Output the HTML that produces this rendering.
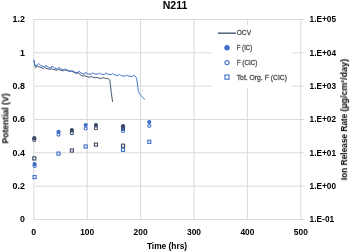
<!DOCTYPE html>
<html><head><meta charset="utf-8"><style>
html,body{margin:0;padding:0;background:#fff;}
body{width:350px;height:251px;overflow:hidden;}
svg{display:block;font-family:"Liberation Sans",sans-serif;}
text{will-change:transform;}
</style></head><body>
<svg width="350" height="251" viewBox="0 0 350 251">
<rect width="350" height="251" fill="#fff"/>
<line x1="33.80" y1="219.50" x2="300.80" y2="219.50" stroke="#d9d9d9" stroke-width="1"/>
<line x1="300.80" y1="219.50" x2="304.30" y2="219.50" stroke="#d9d9d9" stroke-width="1"/>
<line x1="33.80" y1="186.17" x2="300.80" y2="186.17" stroke="#d9d9d9" stroke-width="1"/>
<line x1="300.80" y1="186.17" x2="304.30" y2="186.17" stroke="#d9d9d9" stroke-width="1"/>
<line x1="33.80" y1="152.83" x2="300.80" y2="152.83" stroke="#d9d9d9" stroke-width="1"/>
<line x1="300.80" y1="152.83" x2="304.30" y2="152.83" stroke="#d9d9d9" stroke-width="1"/>
<line x1="33.80" y1="119.50" x2="300.80" y2="119.50" stroke="#d9d9d9" stroke-width="1"/>
<line x1="300.80" y1="119.50" x2="304.30" y2="119.50" stroke="#d9d9d9" stroke-width="1"/>
<line x1="33.80" y1="86.17" x2="300.80" y2="86.17" stroke="#d9d9d9" stroke-width="1"/>
<line x1="300.80" y1="86.17" x2="304.30" y2="86.17" stroke="#d9d9d9" stroke-width="1"/>
<line x1="33.80" y1="52.83" x2="300.80" y2="52.83" stroke="#d9d9d9" stroke-width="1"/>
<line x1="300.80" y1="52.83" x2="304.30" y2="52.83" stroke="#d9d9d9" stroke-width="1"/>
<line x1="33.80" y1="19.50" x2="300.80" y2="19.50" stroke="#d9d9d9" stroke-width="1"/>
<line x1="300.80" y1="19.50" x2="304.30" y2="19.50" stroke="#d9d9d9" stroke-width="1"/>
<line x1="33.80" y1="19.50" x2="33.80" y2="219.50" stroke="#d9d9d9" stroke-width="1"/>
<line x1="87.20" y1="19.50" x2="87.20" y2="219.50" stroke="#d9d9d9" stroke-width="1"/>
<line x1="140.60" y1="19.50" x2="140.60" y2="219.50" stroke="#d9d9d9" stroke-width="1"/>
<line x1="194.00" y1="19.50" x2="194.00" y2="219.50" stroke="#d9d9d9" stroke-width="1"/>
<line x1="247.40" y1="19.50" x2="247.40" y2="219.50" stroke="#d9d9d9" stroke-width="1"/>
<line x1="300.80" y1="19.50" x2="300.80" y2="219.50" stroke="#d9d9d9" stroke-width="1"/>
<rect x="211.5" y="25.3" width="80.1" height="62.7" fill="#fff"/>
<polyline points="34.00,60.70 34.80,65.20 35.60,67.70 37.29,66.20 39.79,67.10 43.59,68.40 44.68,67.60 46.88,68.50 50.38,69.50 50.97,68.60 53.37,69.40 57.16,70.30 57.86,69.40 60.36,70.00 63.56,70.90 64.65,69.80 66.85,70.50 69.85,71.50 71.14,71.00 73.84,72.20 76.74,73.60 78.23,72.80 80.33,74.70 83.03,76.20 84.42,75.60 86.32,76.40 89.42,77.30 90.81,76.50 92.81,77.20 95.81,77.80 96.81,77.30 98.80,78.10 101.30,78.60 102.70,77.60 104.79,78.20 106.89,78.50 108.79,79.00 109.59,79.70 109.99,81.20 110.49,86.20 111.38,93.30 112.58,101.90" fill="none" stroke="#44546a" stroke-width="1.0" stroke-linejoin="round"/>
<polyline points="34.00,59.80 34.50,63.50 35.30,65.70 36.00,66.00 38.69,63.50 40.89,65.60 44.78,67.00 45.78,65.30 47.98,67.04 50.87,68.20 51.97,65.90 54.17,67.82 57.56,69.10 58.76,67.30 60.96,69.04 63.95,70.20 65.35,68.80 67.55,70.24 71.14,71.20 72.14,70.60 74.34,71.92 77.63,72.80 78.83,71.20 81.03,73.06 84.42,74.30 85.62,72.00 86.92,73.72 91.31,74.30 92.61,72.50 93.91,73.85 98.10,74.30 99.30,72.80 100.60,74.08 104.59,74.50 105.99,72.80 107.29,74.15 111.18,74.60 112.68,73.30 113.98,74.88 118.27,75.40 119.67,74.20 120.97,75.63 125.36,76.10 126.66,75.00 127.96,76.05 132.55,76.40 133.75,75.30 135.15,76.20 136.15,77.50 136.75,79.50 137.25,82.90 137.84,87.40 138.34,91.30 138.94,92.90 140.64,95.20 142.84,97.40 144.73,99.60" fill="none" stroke="#4675c8" stroke-width="1.0" stroke-linejoin="round"/>
<circle cx="34.60" cy="164.10" r="2.1" fill="#3f6fca"/>
<circle cx="58.51" cy="131.90" r="2.1" fill="#3f6fca"/>
<circle cx="85.67" cy="125.00" r="2.1" fill="#3f6fca"/>
<circle cx="123.02" cy="128.70" r="2.1" fill="#3f6fca"/>
<circle cx="149.28" cy="122.00" r="2.1" fill="#3f6fca"/>
<circle cx="34.60" cy="165.90" r="1.55" fill="none" stroke="#3f6fca" stroke-width="1.1"/>
<circle cx="58.51" cy="134.60" r="1.55" fill="none" stroke="#3f6fca" stroke-width="1.1"/>
<circle cx="85.67" cy="128.50" r="1.55" fill="none" stroke="#3f6fca" stroke-width="1.1"/>
<circle cx="123.02" cy="130.90" r="1.55" fill="none" stroke="#3f6fca" stroke-width="1.1"/>
<circle cx="149.28" cy="125.80" r="1.55" fill="none" stroke="#3f6fca" stroke-width="1.1"/>
<rect x="33.05" y="175.55" width="3.10" height="3.10" fill="none" stroke="#3f6fca" stroke-width="1.1"/>
<rect x="56.96" y="152.05" width="3.10" height="3.10" fill="none" stroke="#3f6fca" stroke-width="1.1"/>
<rect x="84.12" y="144.95" width="3.10" height="3.10" fill="none" stroke="#3f6fca" stroke-width="1.1"/>
<rect x="121.47" y="148.25" width="3.10" height="3.10" fill="none" stroke="#3f6fca" stroke-width="1.1"/>
<rect x="147.73" y="140.25" width="3.10" height="3.10" fill="none" stroke="#3f6fca" stroke-width="1.1"/>
<circle cx="34.30" cy="138.20" r="2.1" fill="#3a4a66"/>
<circle cx="71.89" cy="130.20" r="2.1" fill="#3a4a66"/>
<circle cx="95.96" cy="125.00" r="2.1" fill="#3a4a66"/>
<circle cx="123.02" cy="126.20" r="2.1" fill="#3a4a66"/>
<circle cx="34.30" cy="140.00" r="1.55" fill="none" stroke="#3a4a66" stroke-width="1.1"/>
<circle cx="71.89" cy="133.20" r="1.55" fill="none" stroke="#3a4a66" stroke-width="1.1"/>
<circle cx="95.96" cy="128.20" r="1.55" fill="none" stroke="#3a4a66" stroke-width="1.1"/>
<circle cx="123.02" cy="128.70" r="1.55" fill="none" stroke="#3a4a66" stroke-width="1.1"/>
<rect x="32.75" y="156.85" width="3.10" height="3.10" fill="none" stroke="#3a4a66" stroke-width="1.1"/>
<rect x="70.34" y="148.95" width="3.10" height="3.10" fill="none" stroke="#3a4a66" stroke-width="1.1"/>
<rect x="94.41" y="143.05" width="3.10" height="3.10" fill="none" stroke="#3a4a66" stroke-width="1.1"/>
<rect x="121.47" y="144.15" width="3.10" height="3.10" fill="none" stroke="#3a4a66" stroke-width="1.1"/>
<line x1="218" y1="33.2" x2="236" y2="33.2" stroke="#4c5c76" stroke-width="1.45"/>
<circle cx="227.01" cy="47.80" r="2.7" fill="#3f6fca"/>
<circle cx="227.01" cy="62.60" r="2.0999999999999996" fill="none" stroke="#3f6fca" stroke-width="1.1"/>
<rect x="224.91" y="75.00" width="4.20" height="4.20" fill="none" stroke="#3f6fca" stroke-width="1.1"/>
<text x="236.7" y="35.3" font-size="7.6" text-anchor="start" font-weight="normal" fill="#4d4d4d" textLength="14.4" lengthAdjust="spacingAndGlyphs" stroke="#4d4d4d" stroke-width="0.3">OCV</text>
<text x="236.7" y="50.1" font-size="7.6" text-anchor="start" font-weight="normal" fill="#4d4d4d" textLength="15.6" lengthAdjust="spacingAndGlyphs" stroke="#4d4d4d" stroke-width="0.3">F (IC)</text>
<text x="236.7" y="64.9" font-size="7.6" text-anchor="start" font-weight="normal" fill="#4d4d4d" textLength="20.7" lengthAdjust="spacingAndGlyphs" stroke="#4d4d4d" stroke-width="0.3">F (CIC)</text>
<text x="236.7" y="79.8" font-size="7.6" text-anchor="start" font-weight="normal" fill="#4d4d4d" textLength="50.3" lengthAdjust="spacingAndGlyphs" stroke="#4d4d4d" stroke-width="0.3">Tot. Org. F (CIC)</text>
<text x="175" y="8.9" font-size="10.5" text-anchor="middle" font-weight="bold" fill="#000">N211</text>
<text x="25.0" y="222.45" font-size="9.0" text-anchor="end" font-weight="bold" fill="#000" textLength="4.9" lengthAdjust="spacingAndGlyphs">0</text>
<text x="25.0" y="189.11666666666665" font-size="9.0" text-anchor="end" font-weight="bold" fill="#000" textLength="12.4" lengthAdjust="spacingAndGlyphs">0.2</text>
<text x="25.0" y="155.7833333333333" font-size="9.0" text-anchor="end" font-weight="bold" fill="#000" textLength="12.4" lengthAdjust="spacingAndGlyphs">0.4</text>
<text x="25.0" y="122.45" font-size="9.0" text-anchor="end" font-weight="bold" fill="#000" textLength="12.4" lengthAdjust="spacingAndGlyphs">0.6</text>
<text x="25.0" y="89.11666666666666" font-size="9.0" text-anchor="end" font-weight="bold" fill="#000" textLength="12.4" lengthAdjust="spacingAndGlyphs">0.8</text>
<text x="25.0" y="55.783333333333346" font-size="9.0" text-anchor="end" font-weight="bold" fill="#000" textLength="4.9" lengthAdjust="spacingAndGlyphs">1</text>
<text x="25.0" y="22.45" font-size="9.0" text-anchor="end" font-weight="bold" fill="#000" textLength="12.4" lengthAdjust="spacingAndGlyphs">1.2</text>
<text x="33.80" y="234.7" font-size="8.7" text-anchor="middle" font-weight="bold" fill="#000" textLength="4.9" lengthAdjust="spacingAndGlyphs">0</text>
<text x="87.20" y="234.7" font-size="8.7" text-anchor="middle" font-weight="bold" fill="#000" textLength="14.0" lengthAdjust="spacingAndGlyphs">100</text>
<text x="140.60" y="234.7" font-size="8.7" text-anchor="middle" font-weight="bold" fill="#000" textLength="14.0" lengthAdjust="spacingAndGlyphs">200</text>
<text x="194.00" y="234.7" font-size="8.7" text-anchor="middle" font-weight="bold" fill="#000" textLength="14.0" lengthAdjust="spacingAndGlyphs">300</text>
<text x="247.40" y="234.7" font-size="8.7" text-anchor="middle" font-weight="bold" fill="#000" textLength="14.0" lengthAdjust="spacingAndGlyphs">400</text>
<text x="300.80" y="234.7" font-size="8.7" text-anchor="middle" font-weight="bold" fill="#000" textLength="14.0" lengthAdjust="spacingAndGlyphs">500</text>
<text x="309.6" y="222.35" font-size="9.0" text-anchor="start" font-weight="bold" fill="#000" textLength="24.6" lengthAdjust="spacingAndGlyphs">1.E-01</text>
<text x="309.6" y="189.01666666666665" font-size="9.0" text-anchor="start" font-weight="bold" fill="#000" textLength="26.4" lengthAdjust="spacingAndGlyphs">1.E+00</text>
<text x="309.6" y="155.6833333333333" font-size="9.0" text-anchor="start" font-weight="bold" fill="#000" textLength="26.4" lengthAdjust="spacingAndGlyphs">1.E+01</text>
<text x="309.6" y="122.35" font-size="9.0" text-anchor="start" font-weight="bold" fill="#000" textLength="26.4" lengthAdjust="spacingAndGlyphs">1.E+02</text>
<text x="309.6" y="89.01666666666665" font-size="9.0" text-anchor="start" font-weight="bold" fill="#000" textLength="26.4" lengthAdjust="spacingAndGlyphs">1.E+03</text>
<text x="309.6" y="55.683333333333344" font-size="9.0" text-anchor="start" font-weight="bold" fill="#000" textLength="26.4" lengthAdjust="spacingAndGlyphs">1.E+04</text>
<text x="309.6" y="22.35" font-size="9.0" text-anchor="start" font-weight="bold" fill="#000" textLength="26.4" lengthAdjust="spacingAndGlyphs">1.E+05</text>
<text x="167.0" y="248.9" font-size="8.6" text-anchor="middle" font-weight="bold" fill="#000" textLength="40.2" lengthAdjust="spacingAndGlyphs">Time (hrs)</text>
<text transform="translate(8.4,118.5) rotate(-90)" x="0" y="0" font-size="8.6" text-anchor="middle" font-weight="bold">Potential (V)</text>
<text transform="translate(347.1,180.2) rotate(-90)" x="0" y="0" font-size="8.2" font-weight="bold" textLength="66.4" lengthAdjust="spacingAndGlyphs">Ion Release Rate</text>
<text transform="translate(347.1,111.6) rotate(-90)" x="0" y="0" font-size="8.2" font-weight="bold" textLength="52.6" lengthAdjust="spacingAndGlyphs">(µg/cm²/day)</text>
</svg>
</body></html>
